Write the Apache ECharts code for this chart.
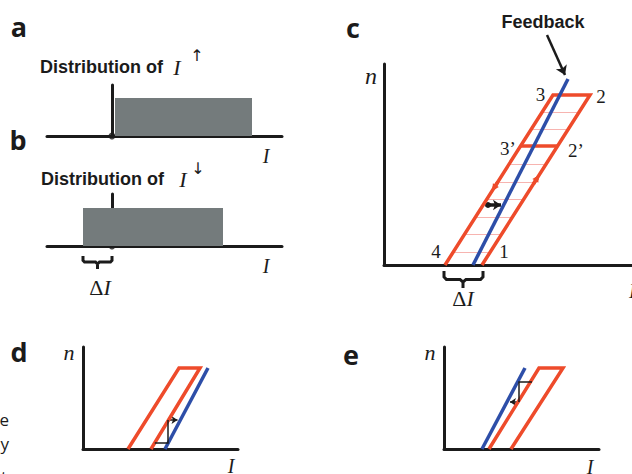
<!DOCTYPE html>
<html>
<head>
<meta charset="utf-8">
<script src="https://cdn.jsdelivr.net/npm/echarts@6/dist/echarts.min.js"></script>
<style>html,body{margin:0;padding:0;background:#fff}#main{width:632px;height:474px}</style>
</head>
<body>
<div id="main"></div>
<script>
// a / b : distributions of I (upward and downward thresholds)
const distUp = [[0.3, 0], [0.3, 3.8], [14, 3.8], [14, 0]];
const distDown = [[-2.9, 0], [-2.9, 3.8], [11.1, 3.8], [11.1, 0]];
const meanDot = [[0, 0]];
const braceB = [[-2.9, -1.0], [-2.9, -1.45], [-2.75, -1.6], [-1.65, -1.6], [-1.45, -1.8], [-1.45, -2.3],
  [-1.45, -1.8], [-1.25, -1.6], [-0.15, -1.6], [0, -1.45], [0, -1.0]];

// c : hysteresis loop 4 -> 3 -> 2 -> 1, feedback line, rungs [n, left, right]
const loopC = [[3.05, 0], [8.45, 8.5], [10.3, 8.5], [4.9, 0]];
const rungMid = [[6.83, 5.95], [8.68, 5.95]];
const feedbackC = [[4.45, 0], [9.2, 9.3]];
const rungsC = [[0.65, 3.46, 5.31], [1.525, 4.02, 5.87], [2.4, 4.57, 6.42], [3.275, 5.13, 6.98],
  [4.15, 5.69, 7.54], [5.025, 6.24, 8.09], [6.775, 7.35, 9.20], [7.65, 7.91, 9.76]];
const edgeArrowsC = [[[5.69, 4.15], [5.5, 3.85]], [[7.47, 4.05], [7.66, 4.35]]];
const shiftArrowC = [[5.2, 3.0], [5.85, 3.0]];
const feedbackPointer = [[8.15, 11.5], [9.05, 9.5]];
const braceC = [[3.0, -0.3], [3.0, -0.6], [3.12, -0.72], [3.8, -0.72], [3.95, -0.85], [3.95, -1.15],
  [3.95, -0.85], [4.1, -0.72], [4.83, -0.72], [4.95, -0.6], [4.95, -0.3]];

// d : feedback line right of the loop
const loopD = [[4.5, 0], [9.6, 8.1], [11.7, 8.1], [6.8, 0]];
const feedbackD = [[8.2, 0], [12.5, 8.1]];
const stepD = [[7.18, 0.6], [8.5, 0.6], [8.5, 2.9]];
const stepArrowD = [[8.5, 2.9], [9.45, 2.9]];

// e : feedback line left of the loop
const loopE = [[4.5, 0], [9.5, 8.1], [11.9, 8.1], [6.7, 0]];
const feedbackE = [[3.8, 0], [8.1, 8.1]];
const stepE = [[8.8, 6.7], [7.5, 6.7], [7.5, 4.7]];
const stepArrowE = [[7.5, 4.7], [6.6, 4.7]];

const RED = '#ee4b2b', BLUE = '#2d4ea8', PINK = '#f7b4b0', GRAY = '#747b7c', INK = '#1b1b1b';
const SERIF = '"Liberation Serif", "Times New Roman", serif';
const SANS = '"Liberation Sans", Arial, sans-serif';

function axis(gridIndex, min, max) {
  return {
    type: 'value', gridIndex, min, max,
    axisLine: { show: true, onZero: true, lineStyle: { color: INK, width: 3 } },
    axisTick: { show: false }, axisLabel: { show: false }, splitLine: { show: false }
  };
}

function path(data, g, color, width, extra) {
  return Object.assign({
    type: 'line', xAxisIndex: g, yAxisIndex: g, data, symbol: 'none', silent: true,
    lineStyle: { color, width, join: 'miter', cap: 'butt' }
  }, extra || {});
}

function arrows(segs, g, color, width, symbol, size, extra) {
  return Object.assign({
    type: 'lines', coordinateSystem: 'cartesian2d', xAxisIndex: g, yAxisIndex: g, silent: true,
    clip: false, symbol, symbolSize: size,
    lineStyle: { color, width, opacity: 1 },
    data: segs.map(c => ({ coords: c }))
  }, extra || {});
}

function txt(x, y, text, o) {
  o = o || {};
  return {
    type: 'text', x, y, silent: true,
    style: {
      text, fill: o.fill || INK, align: o.align || 'center', verticalAlign: 'middle',
      fontFamily: o.family || SERIF, fontSize: o.size || 20,
      fontStyle: o.italic ? 'italic' : 'normal', fontWeight: o.bold ? 'bold' : 'normal',
      rich: o.rich
    }
  };
}

const chart = echarts.init(document.getElementById('main'), null, { renderer: 'svg' });

const deltaRich = {
  d: { fontFamily: SERIF, fontSize: 22, fill: INK },
  i: { fontFamily: SERIF, fontSize: 22, fontStyle: 'italic', fill: INK }
};
const letter = { family: '"Open Sans", sans-serif', size: 27, bold: true };
const head = { family: SANS, size: 18, bold: true, align: 'left' };
const edge = { family: '"Open Sans", sans-serif', size: 17, align: 'right' };

chart.setOption({
  animation: false,
  backgroundColor: '#fff',
  grid: [
    { left: 47, top: 85, width: 235, height: 51 },
    { left: 47, top: 194, width: 235, height: 52 },
    { left: 384, top: 64, width: 248, height: 201 },
    { left: 83, top: 347, width: 155, height: 102 },
    { left: 444, top: 347, width: 155, height: 102 }
  ],
  xAxis: [axis(0, -6.5, 17), axis(1, -6.5, 17), axis(2, 0, 12.4), axis(3, 0, 15.5), axis(4, 0, 15.5)],
  yAxis: [axis(0, 0, 5.1), axis(1, 0, 5.2), axis(2, 0, 10.05), axis(3, 0, 10.2), axis(4, 0, 10.2)],
  series: [
    path(distUp, 0, GRAY, 0, { areaStyle: { color: GRAY, opacity: 1 } }),
    { type: 'scatter', xAxisIndex: 0, yAxisIndex: 0, data: meanDot, symbolSize: 7, itemStyle: { color: INK }, silent: true },
    path(distDown, 1, GRAY, 0, { areaStyle: { color: GRAY, opacity: 1 } }),
    { type: 'scatter', xAxisIndex: 1, yAxisIndex: 1, data: meanDot, symbolSize: 7, itemStyle: { color: INK }, silent: true },
    path(braceB, 1, INK, 3, { clip: false }),

    arrows(rungsC.map(r => [[r[1], r[0]], [r[2], r[0]]]), 2, PINK, 1, 'none', 0),
    path(loopC, 2, RED, 3.5),
    path(rungMid, 2, RED, 3.5),
    path(feedbackC, 2, BLUE, 3.5),
    arrows(edgeArrowsC, 2, RED, 3.5, ['none', 'triangle'], 7),
    arrows([shiftArrowC], 2, INK, 3.5, ['circle', 'arrow'], [6, 8]),
    arrows([feedbackPointer], 2, INK, 2.5, ['none', 'arrow'], 9),
    path(braceC, 2, INK, 3, { clip: false }),

    path(loopD, 3, RED, 3.5),
    path(feedbackD, 3, BLUE, 3.5),
    path(stepD, 3, INK, 1.5),
    arrows([stepArrowD], 3, INK, 1.5, ['none', 'arrow'], 6),

    path(loopE, 4, RED, 3.5),
    path(feedbackE, 4, BLUE, 3.5),
    path(stepE, 4, INK, 1.5),
    arrows([stepArrowE], 4, INK, 1.5, ['none', 'arrow'], 6)
  ],
  graphic: [
    txt(19, 26, 'a', letter),
    txt(18, 139, 'b', letter),
    txt(353, 27, 'c', letter),
    txt(19, 351, 'd', letter),
    txt(351, 354, 'e', letter),

    txt(40, 66.5, 'Distribution of', head),
    txt(177, 67, 'I', { italic: true, size: 22 }),
    txt(197, 55, '\u2191', { family: '"DejaVu Sans"', size: 16 }),
    txt(41, 178.5, 'Distribution of', head),
    txt(183, 179, 'I', { italic: true, size: 22 }),
    txt(198, 168, '\u2193', { family: '"DejaVu Sans"', size: 16 }),
    txt(266, 156, 'I', { italic: true, size: 20 }),
    txt(266, 266, 'I', { italic: true, size: 20 }),
    txt(100, 287, '{d|\u0394}{i|I}', { rich: deltaRich }),

    txt(543, 21.5, 'Feedback', { family: SANS, size: 18, bold: true }),
    txt(371, 76, 'n', { italic: true, size: 24 }),
    txt(540.5, 94, '3', { size: 19 }),
    txt(601, 96, '2', { size: 19 }),
    txt(508, 148, '3\u2019', { size: 19 }),
    txt(576, 150, '2\u2019', { size: 19 }),
    txt(436, 251, '4', { size: 19 }),
    txt(504, 251, '1', { size: 19 }),
    txt(463, 298, '{d|\u0394}{i|I}', { rich: deltaRich }),
    txt(629, 291, 'I', { italic: true, size: 20, align: 'left' }),

    txt(69, 352, 'n', { italic: true, size: 22 }),
    txt(231, 466, 'I', { italic: true, size: 20 }),
    txt(430, 352, 'n', { italic: true, size: 22 }),
    txt(590, 467, 'I', { italic: true, size: 20 }),

    txt(9, 419, 'e', edge),
    txt(9, 443, 'y', edge),
    txt(7, 476, 't', edge)
  ]
});
</script>
</body>
</html>
